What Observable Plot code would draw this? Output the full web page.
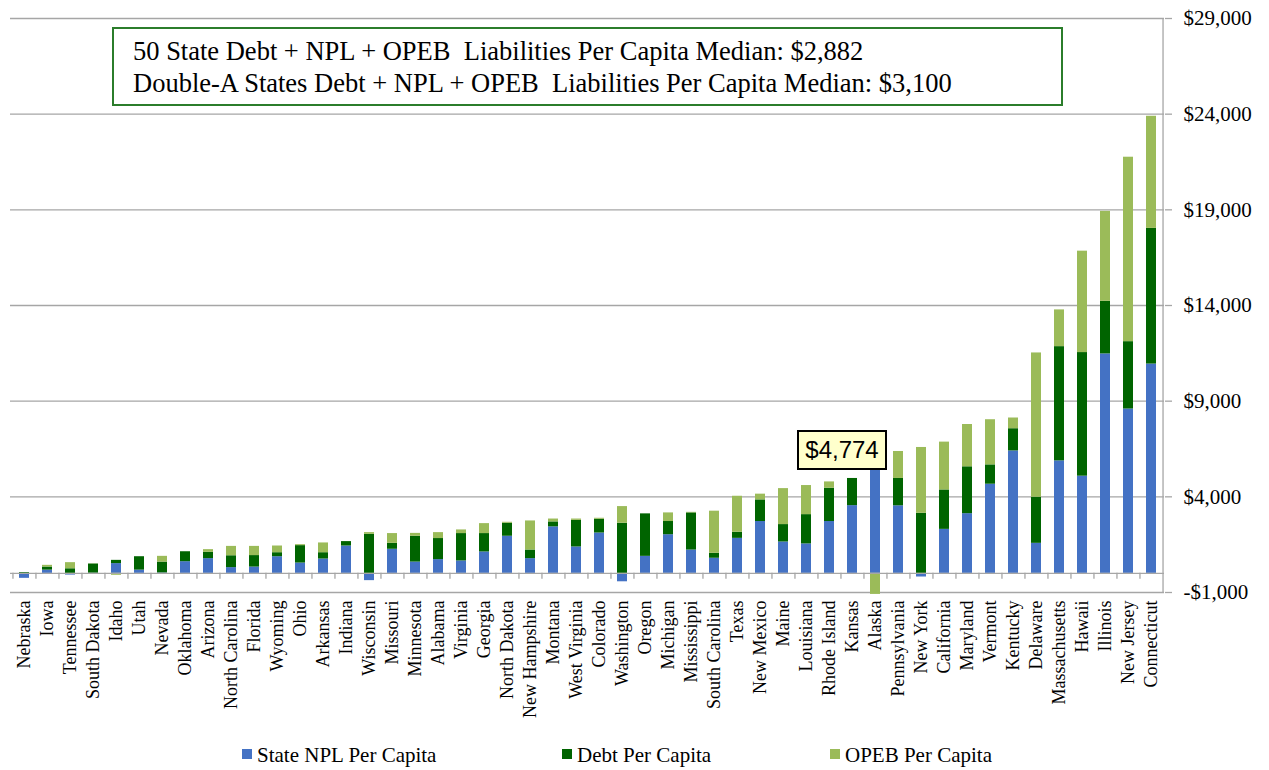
<!DOCTYPE html>
<html>
<head>
<meta charset="utf-8">
<script src="https://cdn.jsdelivr.net/npm/d3@7"></script>
<script src="https://cdn.jsdelivr.net/npm/@observablehq/plot@0.6"></script>
<style>
  body { margin: 0; background: #fff; }
  #wrap { position: relative; width: 1269px; height: 770px; font-family: 'Liberation Serif', 'Times New Roman', serif; color: #000; overflow: hidden; }
  #wrap svg { position: absolute; left: 0; top: 0; }
  #note { position: absolute; left: 112px; top: 27px; width: 951px; height: 79px; box-sizing: border-box;
          border: 2px solid #2b7d2b; background: #fff; font-size: 26.5px; line-height: 32px;
          padding: 6px 0 0 19px; white-space: nowrap; }
  .leg { position: absolute; top: 743px; font-size: 21px; line-height: 24px; white-space: nowrap; }
  .sw { position: absolute; top: 749px; width: 10px; height: 10px; }
  #callout { position: absolute; box-sizing: border-box; width: 90px; height: 40px; border: 2px solid #000;
             background: #ffffcc; font-family: 'Liberation Sans', Arial, sans-serif; font-size: 24px;
             line-height: 36px; text-align: center; }
</style>
</head>
<body>
<div id="wrap"></div>
<script>
// ---- data ----
const states = ["Nebraska","Iowa","Tennessee","South Dakota","Idaho","Utah","Nevada","Oklahoma","Arizona","North Carolina",
  "Florida","Wyoming","Ohio","Arkansas","Indiana","Wisconsin","Missouri","Minnesota","Alabama","Virginia",
  "Georgia","North Dakota","New Hampshire","Montana","West Virginia","Colorado","Washington","Oregon","Michigan","Mississippi",
  "South Carolina","Texas","New Mexico","Maine","Louisiana","Rhode Island","Kansas","Alaska","Pennsylvania","New York",
  "California","Maryland","Vermont","Kentucky","Delaware","Massachusetts","Hawaii","Illinois","New Jersey","Connecticut"];
const nplPerCapita = [-260,170,-90,10,510,170,20,610,770,300,
  330,870,540,750,1430,-380,1260,590,720,650,
  1120,1940,770,2430,1380,2110,-440,890,2020,1220,
  790,1830,2710,1640,1540,2710,3540,5874,3530,-190,
  2300,3120,4660,6400,1570,5880,5080,11470,8590,10940];
const debtPerCapita = [40,160,240,480,170,700,570,520,330,620,
  600,210,910,330,230,2040,310,1350,1100,1430,
  960,680,450,260,1390,720,2620,2220,690,1940,
  260,320,1130,910,1530,1740,1420,0,1430,3140,
  2060,2450,1010,1160,2410,5970,6460,2750,3520,7090];
const opebPerCapita = [0,90,320,10,-100,0,300,0,140,490,
  480,350,50,510,0,90,510,150,310,190,
  520,50,1520,150,70,50,870,0,450,30,
  2200,1880,300,1880,1520,330,0,-1100,1410,3440,
  2500,2210,2360,560,7540,1920,5300,4700,9640,5860];
const seriesNames = ["State NPL Per Capita", "Debt Per Capita", "OPEB Per Capita"];
const seriesColors = ["#4472C4", "#006400", "#9BBB59"];
const yTicks = [-1000, 4000, 9000, 14000, 19000, 24000, 29000];
const noteLines = [
  "50 State Debt + NPL + OPEB\u00a0 Liabilities Per Capita Median: $2,882",
  "Double-A States Debt + NPL + OPEB\u00a0 Liabilities Per Capita Median: $3,100"
];
const calloutState = "Alaska";

// ---- build table ----
const seriesValues = [nplPerCapita, debtPerCapita, opebPerCapita];
const rows = [];
states.forEach((s, i) => {
  seriesNames.forEach((n, k) => rows.push({state: s, series: n, value: seriesValues[k][i]}));
});

const W = 1269, H = 770, mL = 10, mR = 105, mT = 18, mB = 178;
const step = (W - mL - mR) / states.length;
const gray = "#a6a6a6";
const money = d => (d < 0 ? "-" : "") + "$" + d3.format(",")(Math.abs(d));

const plot = Plot.plot({
  width: W, height: H,
  marginLeft: mL, marginRight: mR, marginTop: mT, marginBottom: mB,
  style: {fontFamily: "'Liberation Serif', 'Times New Roman', serif", fontSize: "18px", background: "transparent", color: "black"},
  x: {domain: states, paddingInner: 0.58, paddingOuter: 0.29, label: null},
  y: {domain: [-1000, 29000], label: null},
  color: {domain: seriesNames, range: seriesColors},
  marks: [
    Plot.gridY({ticks: yTicks, stroke: gray, strokeOpacity: 1, strokeWidth: 1.3}),
    Plot.ruleX([states[states.length - 1]], {dx: step / 2, stroke: gray, strokeWidth: 1.3}),
    Plot.axisY({ticks: yTicks, anchor: "right", tickSize: 7, tickPadding: 12, tickFormat: money,
                fontSize: 21, stroke: gray, strokeWidth: 1.3, fill: "black", label: null}),
    Plot.axisX({anchor: "bottom", tickSize: 0, tickRotate: -90, tickPadding: 8, fontSize: 18, fill: "black", label: null}),
    Plot.barY(rows, {x: "state", y: "value", fill: "series", order: seriesNames}),
    Plot.ruleY([0], {stroke: gray, strokeWidth: 1.3}),
    Plot.ruleX(states, {x: d => d, y1: 0, y2: 0, insetBottom: -6, dx: -step / 2, stroke: gray, strokeWidth: 1.3})
  ]
});

const wrap = document.getElementById("wrap");
wrap.appendChild(plot);

// annotation box
const note = document.createElement("div");
note.id = "note";
note.innerHTML = noteLines.map(t => `<div>${t}</div>`).join("");
wrap.appendChild(note);

// callout for Alaska total
const xs = plot.scale("x"), ys = plot.scale("y");
const ai = states.indexOf(calloutState);
const total = nplPerCapita[ai] + debtPerCapita[ai] + opebPerCapita[ai];
const callout = document.createElement("div");
callout.id = "callout";
callout.textContent = money(total);
callout.style.left = (xs.apply(calloutState) + xs.bandwidth / 2 - 78) + "px";
callout.style.top = (ys.apply(total) - 52) + "px";
wrap.appendChild(callout);

// legend
const legX = [242, 562, 830];
seriesNames.forEach((n, k) => {
  const sw = document.createElement("div");
  sw.className = "sw";
  sw.style.left = legX[k] + "px";
  sw.style.background = seriesColors[k];
  wrap.appendChild(sw);
  const t = document.createElement("div");
  t.className = "leg";
  t.style.left = (legX[k] + 15) + "px";
  t.textContent = n;
  wrap.appendChild(t);
});
</script>
</body>
</html>
